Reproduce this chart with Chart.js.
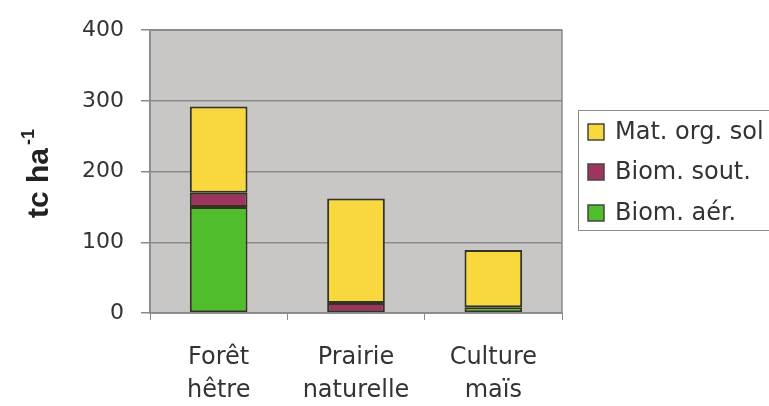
<!DOCTYPE html>
<html>
<head>
<meta charset="utf-8">
<script src="https://cdn.jsdelivr.net/npm/chart.js@4.4.1/dist/chart.umd.min.js"></script>
<style>
  html, body { margin: 0; padding: 0; background: #ffffff; }
  #wrap { width: 769px; height: 406px; position: relative; }
</style>
</head>
<body>
<div id="wrap"><canvas id="c" width="769" height="406"></canvas></div>
<script>
// ---- data ----
const categories = [["Forêt", "hêtre"], ["Prairie", "naturelle"], ["Culture", "maïs"]];
const seriesNames = ["Biom. aér.", "Biom. sout.", "Mat. org. sol"];
const biomAer = [150, 0, 8];
const biomSout = [20, 14, 0];
const matOrgSol = [122, 148, 81];
const yTickValues = [0, 100, 200, 300, 400];
const yTitleMain = "tc ha";
const yTitleSup = "-1";

// ---- styles ----
const colors = ["#4fbd2c", "#9e3560", "#f8d83c"];
const textColor = "#333333";
const gridColor = "#8a8a8a";
const plotBg = "#c9c7c6";

const plotBackground = {
  id: 'plotBackground',
  beforeDraw(chart) {
    const { ctx, chartArea: a } = chart;
    ctx.save();
    ctx.fillStyle = plotBg;
    ctx.fillRect(a.left, a.top, a.right - a.left, a.bottom - a.top);
    ctx.restore();
  },
  afterDatasetsDraw(chart) {
    const { ctx, chartArea: a } = chart;
    ctx.save();
    ctx.strokeStyle = gridColor;
    ctx.lineWidth = 1.5;
    ctx.strokeRect(a.left, a.top, a.right - a.left, a.bottom - a.top);
    ctx.restore();
  }
};

const customLegend = {
  id: 'customLegend',
  afterDraw(chart) {
    const { ctx } = chart;
    const ds = chart.data.datasets.slice().reverse();
    const bx = 578, by = 110, bw = 240, bh = 120;
    ctx.save();
    ctx.fillStyle = '#ffffff';
    ctx.fillRect(bx, by, bw, bh);
    ctx.strokeStyle = '#8c8c8c';
    ctx.lineWidth = 1;
    ctx.strokeRect(bx + 0.5, by + 0.5, bw, bh);
    const rows = [132, 172, 213];
    ctx.font = '24px "DejaVu Sans"';
    ctx.textBaseline = 'middle';
    ctx.textAlign = 'left';
    ds.forEach((d, i) => {
      const cy = rows[i];
      ctx.fillStyle = d.backgroundColor;
      ctx.fillRect(588, cy - 8, 16, 16);
      ctx.strokeStyle = '#444444';
      ctx.lineWidth = 1.5;
      ctx.strokeRect(588, cy - 8, 16, 16);
      ctx.fillStyle = textColor;
      ctx.fillText(d.label, 615, cy + 1);
    });
    ctx.restore();
  }
};

const yTitle = {
  id: 'yTitle',
  afterDraw(chart) {
    const { ctx } = chart;
    ctx.save();
    ctx.translate(48, 218);
    ctx.rotate(-Math.PI / 2);
    ctx.fillStyle = '#222222';
    ctx.textBaseline = 'alphabetic';
    ctx.textAlign = 'left';
    ctx.font = 'bold 30px "Liberation Sans"';
    ctx.fillText(yTitleMain, 0, 0);
    const w = ctx.measureText(yTitleMain).width;
    ctx.font = 'bold 18px "Liberation Sans"';
    ctx.fillText(yTitleSup, w + 3, -14);
    ctx.restore();
  }
};

const values = [biomAer, biomSout, matOrgSol];

new Chart(document.getElementById('c'), {
  type: 'bar',
  data: {
    labels: categories,
    datasets: values.map((v, i) => ({
      label: seriesNames[i],
      data: v,
      backgroundColor: colors[i],
      borderColor: '#33331f',
      borderWidth: 2,
      borderSkipped: false,
      barPercentage: 1,
      categoryPercentage: 0.42
    }))
  },
  options: {
    responsive: false,
    animation: false,
    events: [],
    layout: { padding: { top: 29, right: 207, left: 0, bottom: 0 } },
    plugins: { legend: { display: false }, tooltip: { enabled: false }, title: { display: false } },
    scales: {
      x: {
        stacked: true,
        offset: true,
        grid: { display: true, drawOnChartArea: false, drawTicks: true, tickLength: 7, color: gridColor, offset: true },
        border: { display: true, color: gridColor, width: 1.5 },
        ticks: {
          color: textColor,
          font: { family: 'DejaVu Sans', size: 24, lineHeight: 1.35 },
          padding: 22,
          maxRotation: 0,
          autoSkip: false
        },
        afterFit(scale) { scale.height = 93; }
      },
      y: {
        stacked: true,
        min: 0,
        max: 400,
        afterBuildTicks(scale) { scale.ticks = yTickValues.map(v => ({ value: v })); },
        grid: { color: gridColor, lineWidth: 1.5, tickLength: 9, drawTicks: true },
        border: { display: true, color: gridColor, width: 1.5 },
        ticks: {
          color: textColor,
          font: { family: 'DejaVu Sans', size: 22 },
          padding: 17
        },
        afterFit(scale) { scale.width = 150; }
      }
    }
  },
  plugins: [plotBackground, customLegend, yTitle]
});
</script>
</body>
</html>
